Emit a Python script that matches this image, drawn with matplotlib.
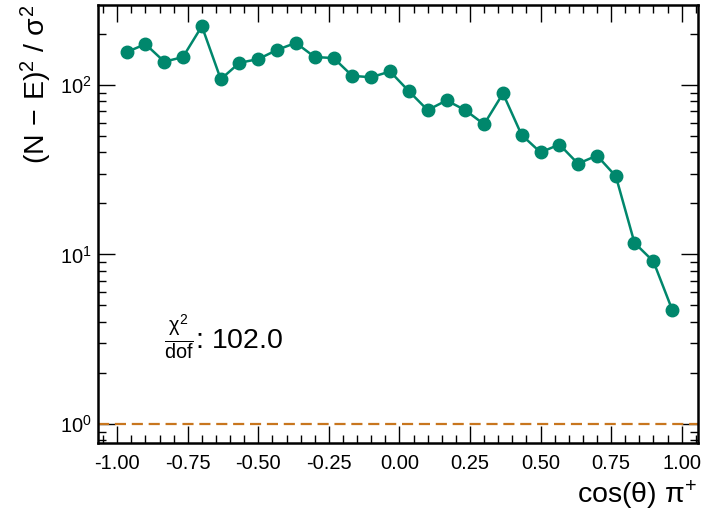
import matplotlib
matplotlib.use("Agg")
import matplotlib.pyplot as plt
import numpy as np
from matplotlib.ticker import LogLocator, MultipleLocator

plt.rcParams['font.family'] = ['Liberation Sans', 'DejaVu Sans']
plt.rcParams['mathtext.fontset'] = 'custom'
plt.rcParams['mathtext.rm'] = 'Liberation Sans'
plt.rcParams['mathtext.it'] = 'Liberation Sans'
plt.rcParams['mathtext.bf'] = 'Liberation Sans:bold'

# Data
bin_centers = [-0.967, -0.900, -0.833, -0.767, -0.700, -0.633, -0.567, -0.500,
               -0.433, -0.367, -0.300, -0.233, -0.167, -0.100, -0.033, 0.033,
               0.100, 0.167, 0.233, 0.300, 0.367, 0.433, 0.500, 0.567,
               0.633, 0.700, 0.767, 0.833, 0.900, 0.967]
chi2_values = [156, 174, 137, 146, 222, 108, 135, 142, 161, 177,
               146, 144, 113, 111, 120, 92, 71, 81, 71, 58.6,
               89, 50.7, 40, 44.5, 34.3, 38.3, 28.9, 11.7, 9.1, 4.7]
chi2_dof = 102.0
x_ticks = [-1.00, -0.75, -0.50, -0.25, 0.00, 0.25, 0.50, 0.75, 1.00]

fig = plt.figure(figsize=(7.05, 5.13), dpi=100)
ax = fig.add_axes([98.3/705, (513-443.3)/513, (697.7-98.3)/705, (443.3-5)/513])

ax.plot(bin_centers, chi2_values, '-o', color='#00876c', lw=1.8, ms=9)
ax.axhline(1.0, color='#c8761e', ls='--', lw=1.6, dashes=(5, 2.6))

ax.set_yscale('log')
ax.set_xlim(-1.067, 1.057)
ax.set_ylim(0.769, 296)
ax.set_xticks(x_ticks)
ax.set_xticklabels([f"{t:.2f}" for t in x_ticks])
ax.xaxis.set_minor_locator(MultipleLocator(0.05))
ax.yaxis.set_minor_locator(LogLocator(base=10, subs=np.arange(2, 10)))

ax.tick_params(which='both', direction='in', top=True, right=True, labelsize=14.5, width=1)
ax.tick_params(which='major', length=12)
ax.tick_params(which='minor', length=6)
ax.tick_params(axis='x', pad=8)
ax.tick_params(axis='y', pad=5)
for s in ax.spines.values():
    s.set_linewidth(1.8)

ax.set_xlabel(r'cos($\theta$) $\pi^{+}$', fontsize=20.5, loc='right')
ax.set_ylabel(r'(N$\,-\,$E)$^2$ / $\sigma^2$', fontsize=20.5, loc='top')

ax.text(-0.835, 3.26, r'$\frac{\chi^2}{\mathrm{dof}}$: ' + f'{chi2_dof:.1f}', fontsize=20.5,
        va='center', ha='left')

fig.savefig('out.png', dpi=100)
